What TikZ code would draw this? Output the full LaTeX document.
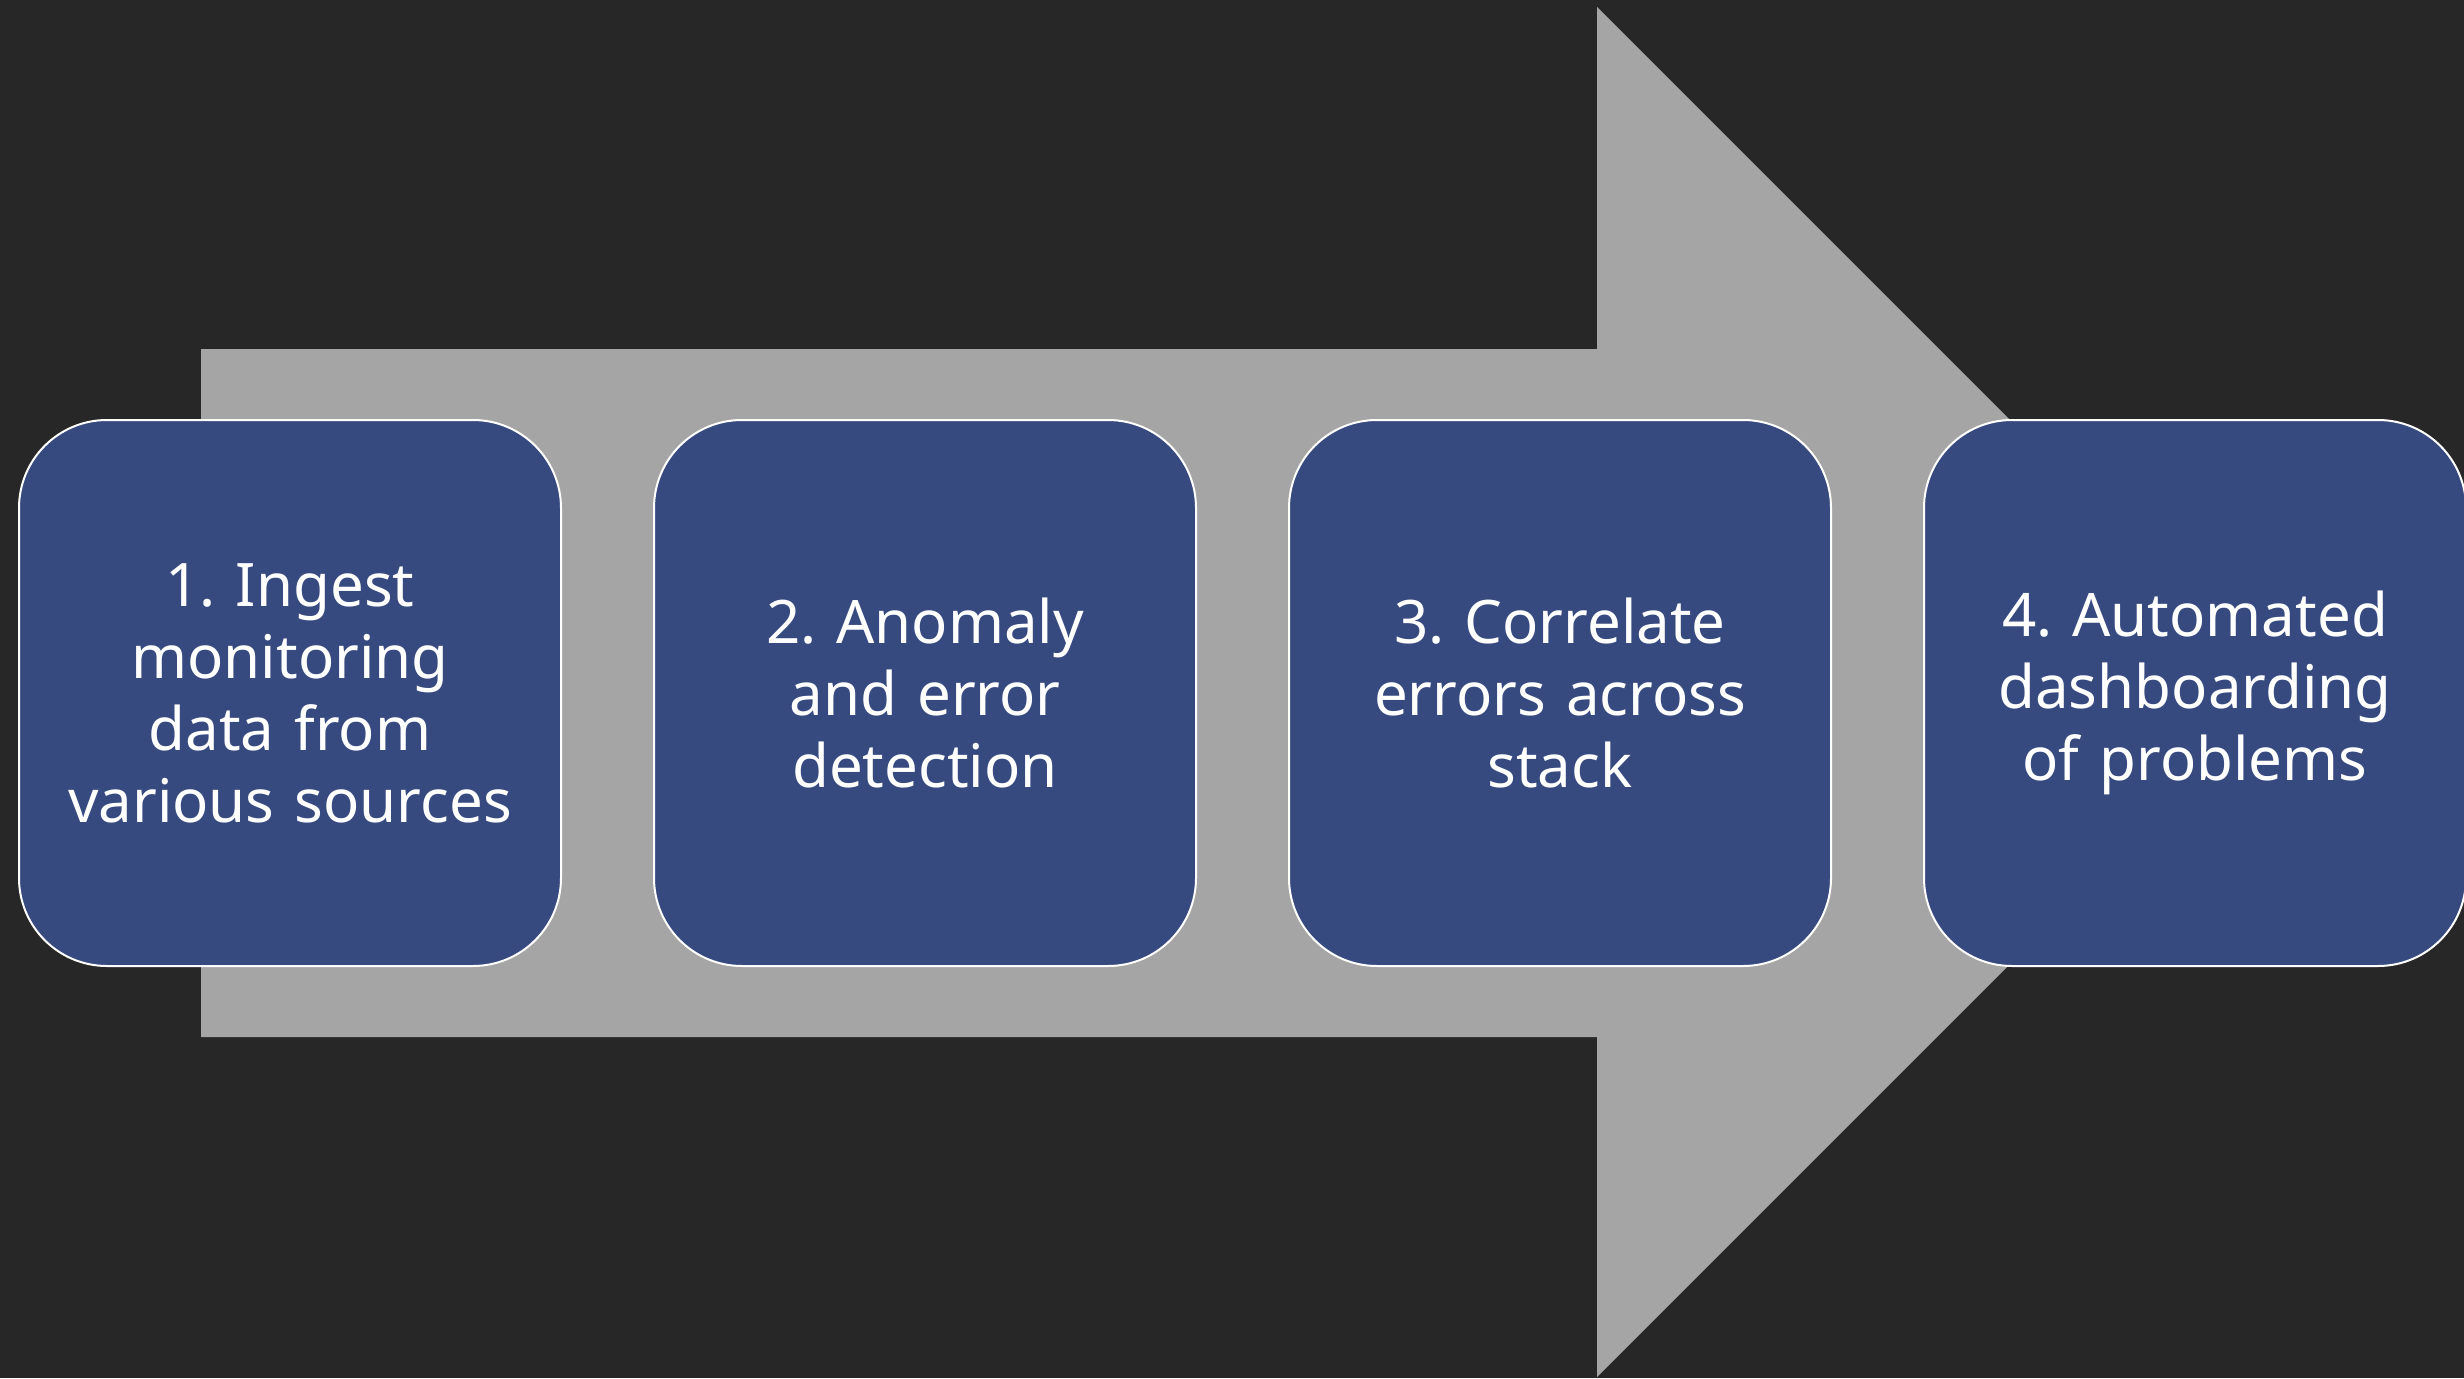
\documentclass[tikz,border=0pt]{standalone}
\usepackage{fontspec}
\setmainfont{Noto Sans}
\definecolor{bgc}{HTML}{272727}
\definecolor{arrowc}{HTML}{A5A5A5}
\definecolor{boxc}{HTML}{374A80}
\frenchspacing
\begin{document}
\begin{tikzpicture}[x=1pt,y=-1pt,
  stepbox/.style={draw=white, line width=2pt, fill=boxc, rounded corners=88pt,
    minimum width=542pt, minimum height=546pt, inner sep=0pt,
    text=white, align=center, text width=520pt,
    font=\fontsize{60}{72}\selectfont\frenchspacing}]
\fill[bgc] (0,0) rectangle (2464,1378);
\useasboundingbox (0,0) rectangle (2464,1378);
\fill[arrowc] (201,349) -- (1597,349) -- (1597,7) -- (2282,692) -- (1597,1377) -- (1597,1037) -- (201,1037) -- cycle;
\node[stepbox] (s1) at (290,693) {1. Ingest\\monitoring\\data from\\various sources};
\node[stepbox] (s2) at (925,693) {2. Anomaly\\and error\\detection};
\node[stepbox] (s3) at (1560,693) {3. Correlate\\errors across\\stack};
\node[stepbox] (s4) at (2195,693) {4. Automated\\dashboarding\\of problems};
\end{tikzpicture}
\end{document}
